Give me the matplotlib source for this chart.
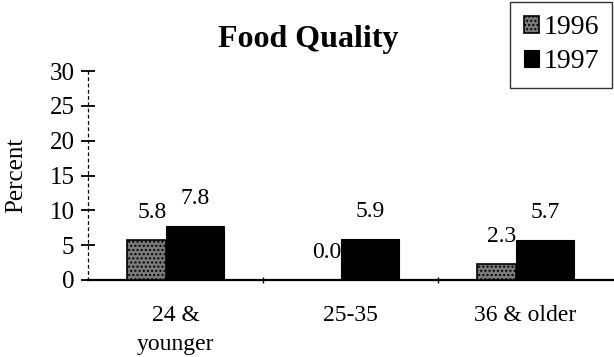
import matplotlib
matplotlib.use("Agg")
import matplotlib.pyplot as plt
import numpy as np

categories = ["24 &\nyounger", "25-35", "36 & older"]
series_names = ["1996", "1997"]
values_1996 = [5.8, 0.0, 2.3]
values_1997 = [7.8, 5.9, 5.7]
y_ticks = [0, 5, 10, 15, 20, 25, 30]

plt.rcParams['font.family'] = ['Liberation Serif', 'DejaVu Serif']
plt.rcParams['hatch.linewidth'] = 1.0

fig = plt.figure(figsize=(6.14, 3.57), dpi=100)
ax = fig.add_axes([88/614, 77/357, 525/614, 209/357])

x = np.arange(len(categories))
w1 = 39/175
w2 = 58/175
left = -(w1 + w2) / 2
x96 = x + left + w1/2
x97 = x + left + w1 + w2/2

b1 = ax.bar(x96, values_1996, width=w1, facecolor='#7a7a7a', edgecolor='black',
            hatch='....', linewidth=1.2, label=series_names[0], zorder=3)
b2 = ax.bar(x97, values_1997, width=w2, facecolor='black', edgecolor='black',
            linewidth=0.8, label=series_names[1], zorder=3)

for xi, v in zip(x96, values_1996):
    ax.annotate(f"{v:.1f}", (xi, v), xytext=(4, 15.8), textcoords='offset points',
                ha='center', va='baseline', fontsize=17)
for xi, v in zip(x97, values_1997):
    ax.annotate(f"{v:.1f}", (xi, v), xytext=(0, 15.8), textcoords='offset points',
                ha='center', va='baseline', fontsize=17)

ax.set_xlim(-0.5, 2.5)
ax.set_ylim(0, 30)
ax.set_yticks(y_ticks)
ax.set_yticklabels([str(t) for t in y_ticks], fontsize=18)
ax.set_xticks(x)
ax.set_xticklabels(categories, fontsize=17, linespacing=1.5, va='top')
ax.tick_params(axis='x', which='major', length=0, pad=18)
ax.set_xticks([0.5, 1.5], minor=True)
ax.tick_params(axis='x', which='minor', length=4, width=1, direction='inout')
ax.tick_params(axis='y', which='major', length=9.5, width=1.3, direction='inout', pad=5)

for s in ['top', 'right']:
    ax.spines[s].set_visible(False)
ax.spines['left'].set_linestyle((0, (2, 3)))
ax.spines['left'].set_linewidth(0.9)
ax.spines['bottom'].set_linewidth(1.6)

ax.set_ylabel("Percent", fontsize=18)
ax.yaxis.set_label_coords(-0.116, 0.5)

fig.text(308/614, 1 - 47/357, "Food Quality", ha='center', va='baseline',
         fontsize=23, fontweight='bold')

leg = ax.legend(loc='upper right', bbox_to_anchor=(612/614, 1 - 2/357),
                bbox_transform=fig.transFigure, borderaxespad=0,
                fontsize=20, frameon=True, fancybox=False, shadow=False,
                handlelength=0.55, handleheight=0.55, handletextpad=0.15,
                labelspacing=0.33, borderpad=0.48)
leg.get_frame().set_edgecolor('black')
leg.get_frame().set_linewidth(1.0)

fig.savefig("out.png", dpi=100)
